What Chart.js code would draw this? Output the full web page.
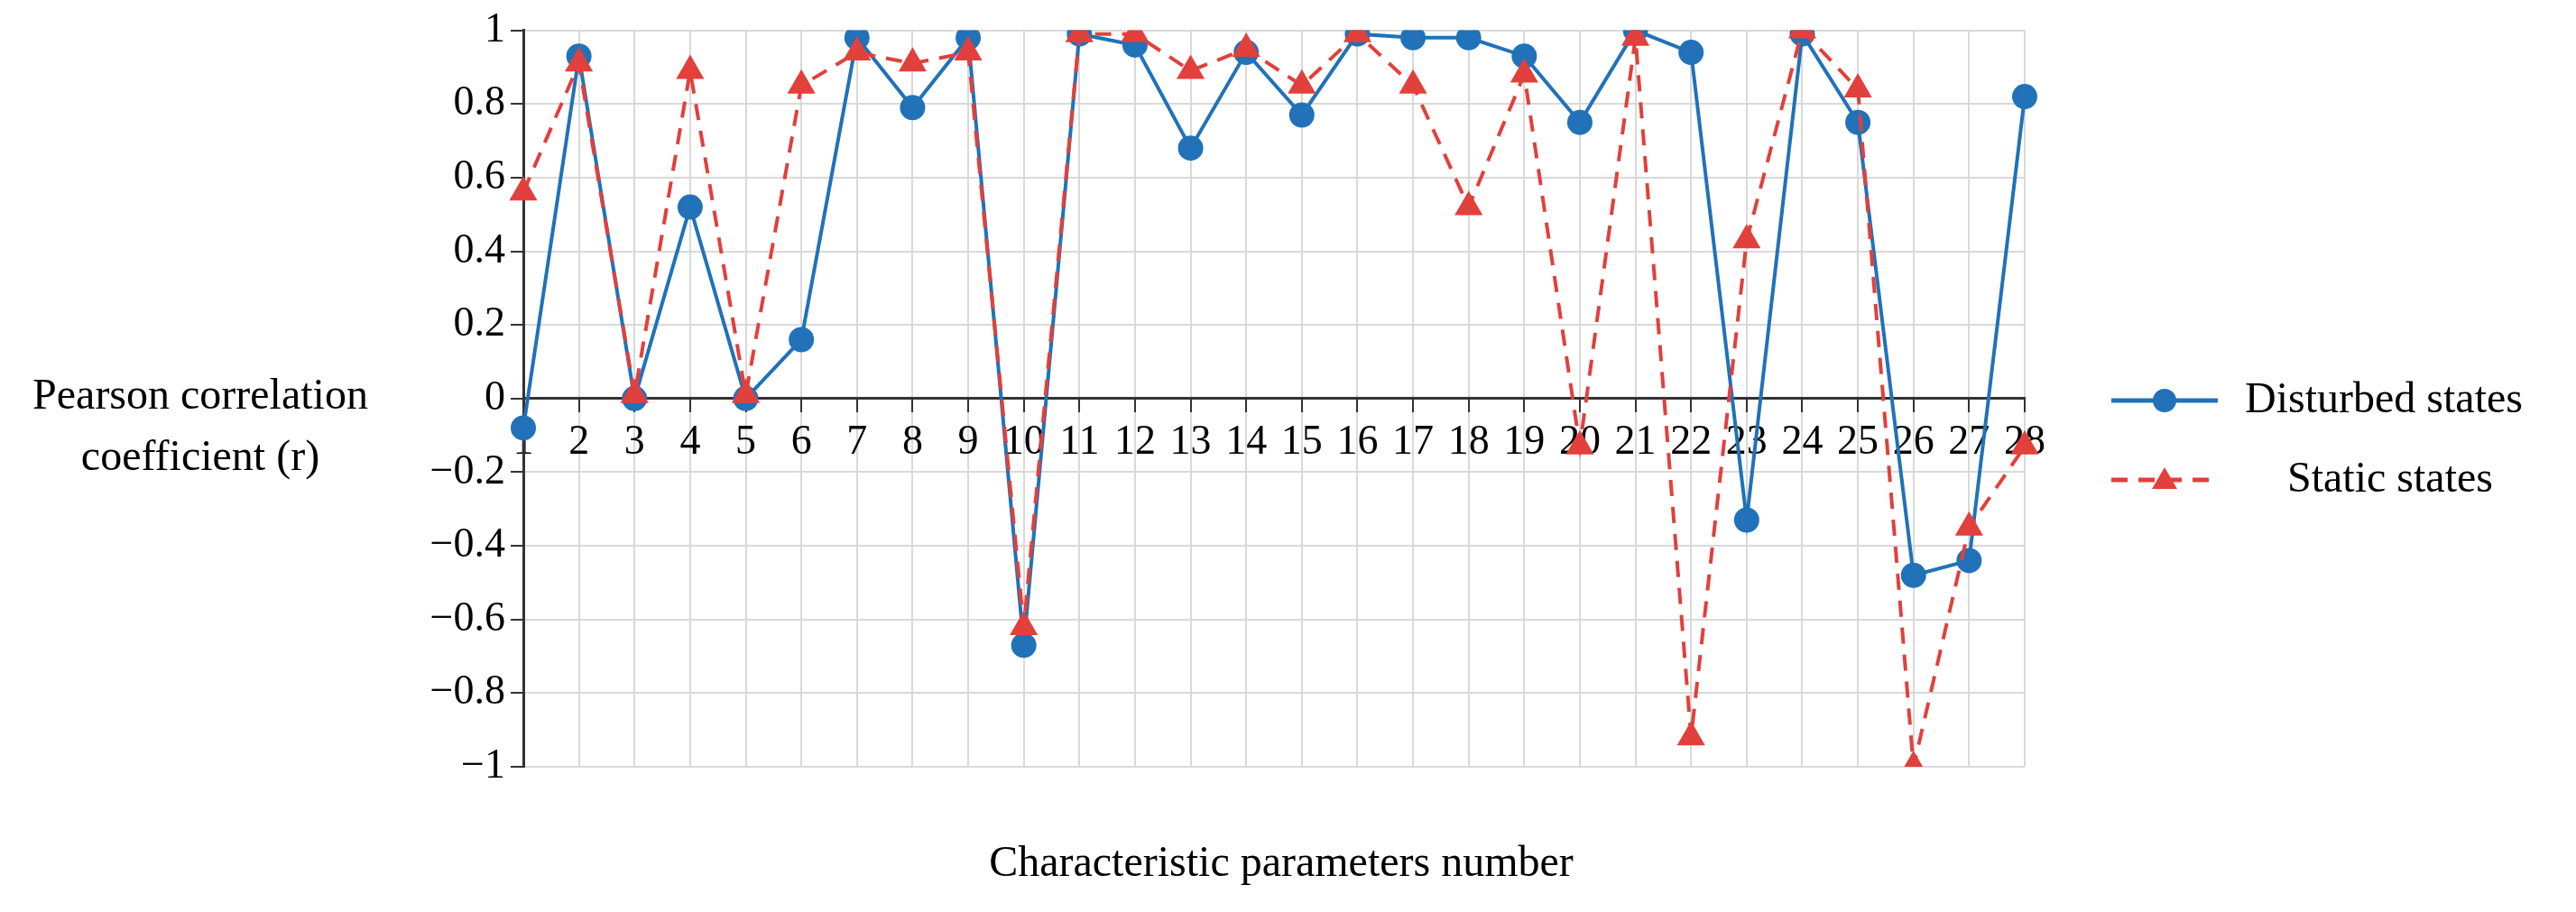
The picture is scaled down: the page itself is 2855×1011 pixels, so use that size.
<!DOCTYPE html>
<html>
<head>
<meta charset="utf-8">
<script src="https://cdn.jsdelivr.net/npm/chart.js@4"></script>
<style>
  html, body { margin: 0; padding: 0; background: #fff; }
  #wrap { width: 2855px; height: 1011px; }
</style>
</head>
<body>
<div id="wrap"><canvas id="chart"></canvas></div>
<script>
const labels = ["1","2","3","4","5","6","7","8","9","10","11","12","13","14","15","16","17","18","19","20","21","22","23","24","25","26","27","28"];
const disturbed = [-0.08,0.93,0,0.52,0,0.16,0.98,0.79,0.98,-0.67,0.99,0.96,0.68,0.94,0.77,0.99,0.98,0.98,0.93,0.75,1.0,0.94,-0.33,0.99,0.75,-0.48,-0.44,0.82];
const staticS = [0.56,0.91,0.01,0.89,0.01,0.85,0.94,0.91,0.94,-0.62,0.99,0.99,0.89,0.95,0.85,0.99,0.85,0.52,0.88,-0.13,0.98,-0.92,0.43,1.0,0.84,-1.0,-0.35,-0.13];

const BLUE = "#2172B8";
const RED = "#E2403C";
const FONT = "'Liberation Serif', 'Times New Roman', serif";

// titles and legend drawn by hand, like the original figure
const extras = {
  id: "extras",
  afterDraw(chart) {
    const c = chart.ctx;
    c.save();
    c.fillStyle = "#000";
    c.font = "48px " + FONT;
    c.textAlign = "center";
    c.textBaseline = "middle";
    c.fillText("Pearson correlation", 222, 440);
    c.fillText("coefficient (r)", 222, 508);
    c.fillText("Characteristic parameters number", 1420, 958);

    // legend
    c.lineWidth = 5;
    c.strokeStyle = BLUE;
    c.beginPath(); c.moveTo(2340, 444); c.lineTo(2458, 444); c.stroke();
    c.fillStyle = BLUE;
    c.beginPath(); c.arc(2399, 444, 13, 0, Math.PI * 2); c.fill();
    c.strokeStyle = RED;
    c.setLineDash([18, 12]);
    c.beginPath(); c.moveTo(2340, 532); c.lineTo(2458, 532); c.stroke();
    c.setLineDash([]);
    c.fillStyle = RED;
    c.beginPath(); c.moveTo(2399, 518); c.lineTo(2413, 542); c.lineTo(2385, 542); c.closePath(); c.fill();
    c.fillStyle = "#000";
    c.textAlign = "left";
    c.fillText("Disturbed states", 2488, 444);
    c.fillText("Static states", 2535, 532);
    c.restore();
  }
};

new Chart(document.getElementById("chart").getContext("2d"), {
  type: "line",
  data: {
    labels: labels,
    datasets: [{
      label: "Static states",
      data: staticS,
      borderColor: RED,
      backgroundColor: RED,
      borderWidth: 4,
      borderDash: [18, 12],
      pointStyle: "triangle",
      pointRadius: 14,
      tension: 0
    }, {
      label: "Disturbed states",
      data: disturbed,
      borderColor: BLUE,
      backgroundColor: BLUE,
      borderWidth: 4,
      pointStyle: "circle",
      pointRadius: 12,
      tension: 0
    }]
  },
  plugins: [extras],
  options: {
    responsive: true,
    maintainAspectRatio: false,
    animation: false,
    layout: { padding: { left: 0, right: 611, top: 22, bottom: 161 } },
    plugins: { legend: { display: false }, tooltip: { enabled: false } },
    scales: {
      x: {
        type: "category",
        offset: false,
        position: { y: 0 },
        grid: { color: "#d9d9d9", lineWidth: 2, tickLength: 14, tickColor: "#333" },
        border: { color: "#333", width: 3 },
        ticks: { color: "#000", font: { family: FONT, size: 46 }, maxRotation: 0, autoSkip: false, padding: 8 }
      },
      y: {
        min: -1, max: 1,
        afterFit: function (scale) { scale.width = 580; },
        grid: { color: "#d9d9d9", lineWidth: 2, tickLength: 14, tickColor: "#333" },
        border: { color: "#333", width: 3 },
        ticks: {
          stepSize: 0.2, color: "#000", font: { family: FONT, size: 46 }, padding: 6,
          callback: function (v) {
            const r = Math.round(v * 10) / 10;
            return r === 0 ? "0" : String(r).replace("-", "\u2212");
          }
        }
      }
    }
  }
});
</script>
</body>
</html>
